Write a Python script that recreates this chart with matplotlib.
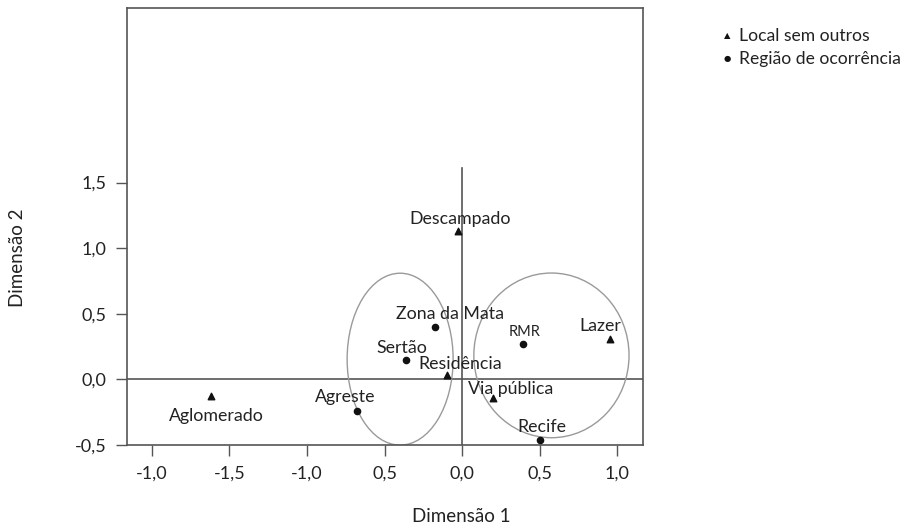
import numpy as np
import matplotlib.pyplot as plt
from matplotlib.patches import Ellipse

plt.rcParams['font.family'] = ['Lato', 'DejaVu Sans']

# local sem outros (triangles)
local_nomes = ['Descampado', 'Residência', 'Lazer', 'Via pública', 'Aglomerado']
local_x = [-0.03, -0.10, 0.95, 0.20, -1.62]
local_y = [1.13, 0.03, 0.31, -0.14, -0.13]

# regiao de ocorrencia (dots)
regiao_nomes = ['Zona da Mata', 'Sertão', 'RMR', 'Recife', 'Agreste']
regiao_x = [-0.175, -0.36, 0.39, 0.50, -0.675]
regiao_y = [0.40, 0.145, 0.27, -0.465, -0.24]

xticks = [-2.0, -1.5, -1.0, -0.5, 0.0, 0.5, 1.0]
xticklabels = ['-1,0', '-1,5', '-1,0', '0,5', '0,0', '0,5', '1,0']
yticks = [-0.5, 0.0, 0.5, 1.0, 1.5]
yticklabels = ['-0,5', '0,0', '0,5', '1,0', '1,5']

# label offsets (px) relative to each point
local_off = [(3, 12), (14, 11), (-9, 13), (17, 9), (6, -20)]
regiao_off = [(15, 13), (-4, 12), (2, 12), (2, 13), (-12, 14)]

fig = plt.figure(figsize=(9.05, 5.28), dpi=100)
ax = fig.add_axes([127 / 905, 1 - 445 / 528, 516 / 905, 437 / 528])
ax.set_xlim(-2.16, 1.165)
ax.set_ylim(-0.5, 2.83)

ax.axhline(0, color='#555555', lw=1.2, zorder=1)
ax.plot([0, 0], [-0.5, 1.61], color='#555555', lw=1.2, zorder=1)

ax.add_patch(Ellipse((-0.40, 0.154), 0.683, 1.31, fill=False, ec='#9a9a9a', lw=1.0))
ax.add_patch(Ellipse((0.575, 0.183), 1.0, 1.255, fill=False, ec='#9a9a9a', lw=1.0))

ax.scatter(local_x, local_y, marker='^', s=22, color='#111111', zorder=3)
ax.scatter(regiao_x, regiao_y, marker='o', s=20, color='#111111', zorder=3)

for nome, x, y, off in zip(local_nomes, local_x, local_y, local_off):
    ax.annotate(nome, (x, y), xytext=(off[0] * 0.72, off[1] * 0.72),
                textcoords='offset points', ha='center', va='center',
                fontsize=12.8, color='#222222')
for nome, x, y, off in zip(regiao_nomes, regiao_x, regiao_y, regiao_off):
    fs = 10.5 if nome == 'RMR' else 12.8
    ax.annotate(nome, (x, y), xytext=(off[0] * 0.72, off[1] * 0.72),
                textcoords='offset points', ha='center', va='center',
                fontsize=fs, color='#222222')

ax.set_xticks(xticks)
ax.set_xticklabels(xticklabels)
ax.set_yticks(yticks)
ax.set_yticklabels(yticklabels)
ax.tick_params(direction='out', length=8, width=1.0, color='#555555',
               labelsize=13, labelcolor='#222222', pad=7)
for s in ax.spines.values():
    s.set_color('#555555')
    s.set_linewidth(1.2)

fig.text(461 / 905, 1 - 516 / 528, 'Dimensão 1', ha='center', va='center',
         fontsize=13.5, color='#222222')
fig.text(18 / 905, 1 - 258 / 528, 'Dimensão 2', ha='center', va='center',
         rotation=90, fontsize=13.5, color='#222222')

# legend
fig.text(727 / 905, 1 - 36 / 528, '▲', ha='center', va='center', fontsize=6,
         color='#111111', family='DejaVu Sans')
fig.text(739 / 905, 1 - 36 / 528, 'Local sem outros', ha='left', va='center',
         fontsize=12.6, color='#222222')
fig.text(727 / 905, 1 - 59 / 528, '●', ha='center', va='center', fontsize=6,
         color='#111111', family='DejaVu Sans')
fig.text(739 / 905, 1 - 59 / 528, 'Região de ocorrência', ha='left', va='center',
         fontsize=12.6, color='#222222')

fig.savefig('out.png', dpi=100)
